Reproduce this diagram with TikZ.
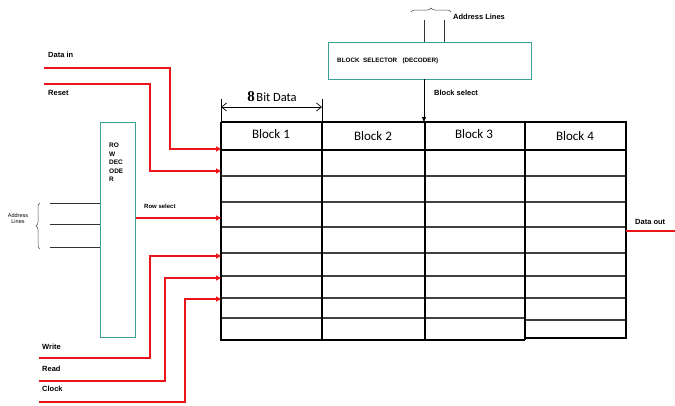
\documentclass[tikz,border=0pt]{standalone}
\usepackage{fontspec}
\setmainfont{Carlito}
\newfontfamily\lab{Liberation Sans}
\newfontfamily\serifb{Liberation Serif}
\usetikzlibrary{arrows.meta,decorations.pathreplacing}
\definecolor{sigred}{RGB}{235,20,25}
\definecolor{boxteal}{RGB}{60,160,150}
\tikzset{
  sig/.style={draw=sigred,line width=1.6pt},
  sigarrow/.style={sig,-{Triangle[length=5pt,width=5pt]}},
  thickline/.style={line width=2.4pt},
  rowline/.style={line width=1.1pt,draw=black!75},
  lbl/.style={font=\lab\bfseries\fontsize{7.5}{8}\selectfont,inner sep=0pt,anchor=west},
  tiny/.style={font=\lab\fontsize{5.5}{6}\selectfont,inner sep=0pt,align=center},
  blk/.style={font=\fontsize{13}{14}\selectfont,inner sep=0pt},
  decbox/.style={draw=boxteal,line width=1pt}
}
\begin{document}
\begin{tikzpicture}[x=1pt,y=-1pt]
\useasboundingbox (0,0) rectangle (675,405);
% row lines
\foreach \yy in {176,202,227,253,276,298}{
  \draw[rowline] (221,\yy) -- (626,\yy);
}
\draw[rowline] (221,318) -- (525,318);
\draw[rowline] (525,320) -- (626,320);
% header bottom
\draw[thickline] (221,150) -- (626,150);
% columns
\foreach \xx in {322,425,525}{
  \draw[thickline] (\xx,122) -- (\xx,340);
}
\draw[thickline] (221,122) -- (626,122) -- (626,338) -- (525,338);
\draw[thickline] (525,340) -- (221,340) -- (221,122);
% block labels
\node[blk] (b1) at (271,134) {Block 1};
\node[blk] (b2) at (373,136) {Block 2};
\node[blk] (b3) at (474,134) {Block 3};
\node[blk] (b4) at (575,136) {Block 4};
% 8 bit data
\coordinate (dl) at (221,107);
\coordinate (dr) at (322,107);
\draw[line width=0.6pt] (221,99) -- (221,122);
\draw[line width=0.6pt] (322,99) -- (322,122);
\draw[line width=0.7pt,{Straight Barb[length=5pt,width=8pt]}-{Straight Barb[length=5pt,width=8pt]}] (dl) -- (dr);
\node[inner sep=0pt] (bitdata) at (272,97) {{\serifb\bfseries\fontsize{15}{15}\selectfont 8}\,{\fontsize{12.5}{13}\selectfont Bit Data}};
% row decoder
\node[decbox,minimum width=35pt,minimum height=215pt,inner sep=0pt,anchor=north west] (rowdec) at (100,122) {};
\node[font=\lab\bfseries\fontsize{6.5}{8.5}\selectfont,align=left,inner sep=0pt,anchor=north west] (rowtxt) at (109,143) {RO\\W\\DEC\\ODE\\R};
% address lines left
\coordinate (al1) at (50,203);
\coordinate (al2) at (50,224);
\coordinate (al3) at (50,247);
\draw[line width=0.9pt,black!80] (al1) -- (al1 -| rowdec.west);
\draw[line width=0.9pt,black!80] (al2) -- (al2 -| rowdec.west);
\draw[line width=0.9pt,black!80] (al3) -- (al3 -| rowdec.west);
\draw[decorate,decoration={brace,amplitude=4pt},line width=0.5pt,black!70] (40,249) -- (40,203);
\node[tiny] (addrL) at (18,219) {Address\\Lines};
% block selector
\node[decbox,minimum width=203pt,minimum height=37pt,inner sep=0pt,anchor=north west] (blksel) at (328,42) {};
\node[font=\lab\bfseries\fontsize{6.3}{7}\selectfont,inner sep=0pt,anchor=west] (blkseltxt) at (337,61) {BLOCK\ \ SELECTOR\ \ \ (DECODER)};
\coordinate (ta1) at (424,20);
\coordinate (ta2) at (444,20);
\draw[line width=0.9pt,black!80] (ta1) -- (ta1 |- blksel.north);
\draw[line width=0.9pt,black!80] (ta2) -- (ta2 |- blksel.north);
\draw[decorate,decoration={brace,amplitude=4pt},line width=0.5pt,black!70] (411,12) -- (451,12);
\node[lbl] (addrT) at (453,17) {Address Lines};
% block select arrow
\coordinate (bsTop) at (424,79);
\coordinate (bsBot) at (424,122);
\draw[line width=1pt,-{Triangle[length=5pt,width=4pt]}] (bsTop) -- (bsBot);
\node[lbl] (bsel) at (434,93) {Block select};
% red signals
\coordinate (din) at (44,68);
\coordinate (rst) at (44,84);
\coordinate (wr) at (39,358);
\coordinate (rd) at (39,381);
\coordinate (clk) at (39,402);
\coordinate (tin1) at (221,149);
\coordinate (tin2) at (221,171);
\coordinate (trs) at (221,218);
\coordinate (tw) at (221,256);
\coordinate (tr) at (221,278);
\coordinate (tc) at (221,299);
\draw[sigarrow] (din) -- (170,68) -- (170,149) -- (tin1);
\draw[sigarrow] (rst) -- (150,84) -- (150,171) -- (tin2);
\draw[sigarrow] (rowdec.east |- trs) -- (trs);
\draw[sigarrow] (wr) -- (150,358) -- (150,256) -- (tw);
\draw[sigarrow] (rd) -- (165,381) -- (165,278) -- (tr);
\draw[sigarrow] (clk) -- (185,402) -- (185,299) -- (tc);
\coordinate (dout) at (675,231);
\draw[sig] (626,231) -- (dout);
% labels
\node[lbl] (ldin) at (48,55) {Data in};
\node[lbl] (lrst) at (48,93) {Reset};
\node[lbl] (lwr) at (42,347) {Write};
\node[lbl] (lrd) at (42,369) {Read};
\node[lbl] (lclk) at (42,389) {Clock};
\node[lbl,font=\lab\bfseries\fontsize{6}{7}\selectfont] (lrs) at (144,206) {Row select};
\node[lbl] (ldout) at (635,222) {Data out};
\end{tikzpicture}
\end{document}
